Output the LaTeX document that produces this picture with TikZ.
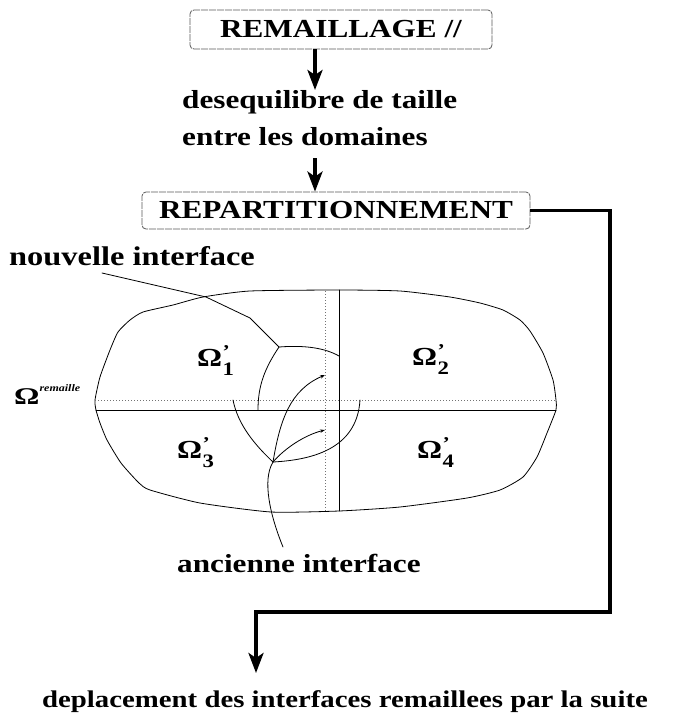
\documentclass[tikz,border=0pt]{standalone}
\usepackage{fontspec}
\setmainfont{Liberation Serif}[FakeStretch=1.2, UprightFont=* Bold, ItalicFont=* Bold Italic]
\usetikzlibrary{arrows.meta}
\newcommand\omp[1]{Ω\kern0.5pt\rlap{\raisebox{9pt}{\fontsize{18}{18}\selectfont ’}}\raisebox{-9pt}{\fontsize{19}{19}\selectfont #1}}
\begin{document}
\begin{tikzpicture}[x=1pt,y=-1pt,
  box/.style={draw=black!65, line width=0.8pt, dash pattern=on 7pt off 1pt, rounded corners=4pt, inner sep=0pt, font=\fontsize{26}{28}\selectfont},
  txt/.style={inner sep=0pt, font=\fontsize{26}{28}\selectfont},
  om/.style={inner sep=0pt, anchor=base west, font=\fontsize{26}{28}\selectfont},
  flow/.style={line width=3.5pt, line join=miter, -{Stealth[length=20pt, width=15pt, inset=5pt]}},
  fine/.style={line width=0.8pt, line cap=round, line join=round},
  dots/.style={line width=0.7pt, black!55, dash pattern=on 1pt off 2pt},
  tip/.style={-{Stealth[length=5pt, width=3.5pt]}}]
\useasboundingbox (0,0) rectangle (682,720);

% boxes and texts
\node[box, minimum width=302pt, minimum height=39pt] (rem) at (341,29.5) {REMAILLAGE //};
\node[txt, anchor=base west] (desq1) at (182,108) {desequilibre de taille};
\node[txt, anchor=base west] (desq2) at (182,145) {entre les domaines};
\node[box, minimum width=388pt, minimum height=37pt] (repart) at (336,210.5) {REPARTITIONNEMENT};
\node[txt, anchor=base, font=\fontsize{24}{26}\selectfont] (depl) at (345,707) {deplacement des interfaces remaillees par la suite};
\node[txt, anchor=base west, font=\fontsize{27}{29}\selectfont] (nouv) at (9,265) {nouvelle interface};
\node[txt, anchor=base west] (anc) at (177,572) {ancienne interface};

% flow arrows
\coordinate (t1) at (315,90);
\draw[flow] (rem.south -| t1) -- (t1);
\coordinate (s2) at (315,158);
\draw[flow] (s2) -- (repart.north -| s2);
\coordinate (c1) at (610,612);
\coordinate (t3) at (256,673);
\draw[flow] (repart.east) -| (c1) -| (t3);

% domain outline
\draw[fine] plot[smooth cycle, tension=0.35] coordinates {
 (95,400) (100,377) (110,350) (118,332) (130,320) (143,312) (173,305) (203,297)
 (250,291) (339,290) (400,291) (450,297) (480,303) (503,310) (520,320) (530,331)
 (543,353) (553,380) (556,400)
 (556,410) (547,433) (537,457) (523,477) (500,490) (467,498) (400,507) (339,511)
 (271,512) (200,503) (150,490) (139,483) (121,463) (107,440) (100,423) (96,410)};

% partition lines
\draw[dots] (95,400) -- (556,400);
\draw[dots] (325,291) -- (325,511);
\draw[fine] (96,410) -- (556,410);
\draw[fine] (339,290) -- (339,511);

% nouvelle interface
\coordinate (jn) at (279,347);
\draw[fine] (102,273) -- (206,297) -- (250,318) -- (jn);
\draw[fine] (jn) .. controls (305,345) and (325,348) .. (339,356);
\draw[fine] (jn) .. controls (265,368) and (258,385) .. (258,410);

% ancienne interface
\coordinate (ja) at (273,462);
\draw[fine] (233,400) .. controls (238,425) and (255,445) .. (ja);
\draw[fine] (ja) .. controls (310,460) and (357,450) .. (360,400);
\draw[fine, tip] (ja) .. controls (285,448) and (305,435) .. (325,430);
\draw[fine, tip] (283,547) .. controls (270,515) and (262,480) .. (ja)
  .. controls (280,420) and (290,390) .. (325,375);

% labels Omega
\node[om] (o1) at (197,366) {\omp{1}};
\node[om] (o2) at (412,365) {\omp{2}};
\node[om] (o3) at (177,458) {\omp{3}};
\node[om] (o4) at (417,458) {\omp{4}};
\node[om] (orem) at (14,404) {\fontsize{24}{24}\selectfont\scalebox{1.1}[1]{Ω}\raisebox{13pt}{\fontsize{10}{10}\selectfont\itshape remaille}};
\end{tikzpicture}
\end{document}
